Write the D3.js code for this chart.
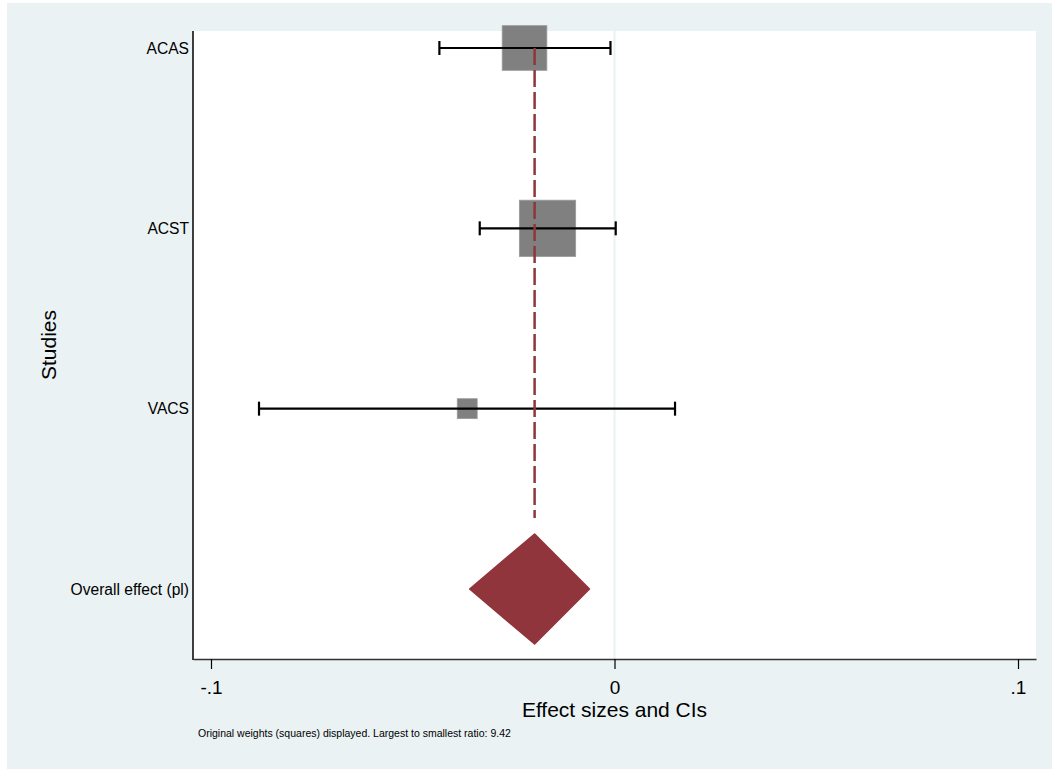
<!DOCTYPE html>
<html>
<head>
<meta charset="utf-8">
<script src="https://cdn.jsdelivr.net/npm/d3@7"></script>
<style>
  html, body { margin: 0; padding: 0; background: #ffffff; }
  svg { display: block; }
  text { font-family: "Liberation Sans", Arial, Helvetica, sans-serif; fill: #000; }
</style>
</head>
<body>
<svg id="chart" width="1052" height="769"></svg>
<script>
// Study-level estimates (effect size with 95% CI) and weights (%)
const studies   = ["ACAS", "ACST", "VACS"];
const effects   = [-0.0223, -0.0166, -0.0365];
const ciLower   = [-0.0434, -0.0334, -0.0881];
const ciUpper   = [-0.0010,  0.0003,  0.0150];
const weights   = [36.2, 57.5, 7.2];

// Pooled estimate
const overallLabel  = "Overall effect (pl)";
const overallEffect = -0.0198;
const overallLower  = -0.0359;
const overallUpper  = -0.0062;

const xTicks      = [-0.1, 0, 0.1];
const xTickLabels = ["-.1", "0", ".1"];
const ratioNote   = "Original weights (squares) displayed. Largest to smallest ratio: 9.42";

const svg = d3.select("#chart");
const W = 1052, H = 769;
const plot = { left: 193, right: 1036, top: 31, bottom: 659 };

// Outer graph region
svg.append("rect").attr("x", 7).attr("y", 3).attr("width", W - 7).attr("height", H - 3)
  .attr("fill", "#eaf2f3");

// Plot region
svg.append("rect").attr("x", plot.left).attr("y", plot.top)
  .attr("width", plot.right - plot.left).attr("height", plot.bottom - plot.top)
  .attr("fill", "#ffffff");

const x = d3.scaleLinear().domain([-0.10446, 0.10446]).range([plot.left, plot.right]);
const rows = studies.concat([overallLabel]);
const y = d3.scalePoint().domain(rows).range([48, 589]);

// Reference line at zero
svg.append("line")
  .attr("x1", x(0)).attr("x2", x(0))
  .attr("y1", plot.top).attr("y2", plot.bottom)
  .attr("stroke", "#eaf2f3").attr("stroke-width", 2);

// Weighted squares (area proportional to weight)
const boxSide = d3.scaleSqrt().domain([0, d3.max(weights)]).range([0, 56.3]);
const data = studies.map((s, i) => ({ s, e: effects[i], lo: ciLower[i], hi: ciUpper[i], w: weights[i] }));

svg.append("g").selectAll("rect").data(data).join("rect")
  .attr("x", d => x(d.e) - boxSide(d.w) / 2)
  .attr("y", d => y(d.s) - boxSide(d.w) / 2)
  .attr("width", d => boxSide(d.w))
  .attr("height", d => boxSide(d.w))
  .attr("fill", "#808080")
  .attr("stroke", "#9a9a9a").attr("stroke-width", 0.8);

// Confidence intervals with end caps
const ci = svg.append("g").attr("stroke", "#000").attr("stroke-width", 2.2);
ci.selectAll("line.ci").data(data).join("line").attr("class", "ci")
  .attr("x1", d => x(d.lo)).attr("x2", d => x(d.hi))
  .attr("y1", d => y(d.s)).attr("y2", d => y(d.s));
ci.selectAll("line.capl").data(data).join("line").attr("class", "capl")
  .attr("x1", d => x(d.lo)).attr("x2", d => x(d.lo))
  .attr("y1", d => y(d.s) - 7).attr("y2", d => y(d.s) + 7);
ci.selectAll("line.capr").data(data).join("line").attr("class", "capr")
  .attr("x1", d => x(d.hi)).attr("x2", d => x(d.hi))
  .attr("y1", d => y(d.s) - 7).attr("y2", d => y(d.s) + 7);

// Pooled effect: dashed line and diamond
const maroon = "#90353b";
svg.append("line")
  .attr("x1", x(overallEffect)).attr("x2", x(overallEffect))
  .attr("y1", y(studies[0])).attr("y2", 518)
  .attr("stroke", maroon).attr("stroke-width", 2.5)
  .attr("stroke-dasharray", "17,5");

const oy = y(overallLabel), halfH = 55;
svg.append("path")
  .attr("d", d3.line()([
    [x(overallLower), oy], [x(overallEffect), oy - halfH],
    [x(overallUpper), oy], [x(overallEffect), oy + halfH]
  ]) + "Z")
  .attr("fill", maroon).attr("stroke", maroon).attr("stroke-width", 1.5)
  .attr("stroke-linejoin", "round");

// Y axis: line plus category labels
svg.append("line").attr("x1", plot.left).attr("x2", plot.left)
  .attr("y1", plot.top).attr("y2", plot.bottom + 1)
  .attr("stroke", "#000").attr("stroke-width", 1.5);
svg.append("g").selectAll("text").data(rows).join("text")
  .attr("x", plot.left - 4).attr("y", d => y(d))
  .attr("text-anchor", "end").attr("dominant-baseline", "central")
  .attr("font-size", 15.6).text(d => d);

svg.append("text")
  .attr("transform", `translate(48,345) rotate(-90)`)
  .attr("text-anchor", "middle").attr("dominant-baseline", "central")
  .attr("font-size", 21).text("Studies");

// X axis
const xAxis = d3.axisBottom(x).tickValues(xTicks)
  .tickFormat((d, i) => xTickLabels[i]).tickSize(10).tickSizeOuter(0);
const gx = svg.append("g").attr("transform", `translate(0,${plot.bottom})`).call(xAxis);
gx.select(".domain").attr("stroke", "#333").attr("stroke-width", 1.5);
gx.selectAll(".tick line").attr("stroke", "#000").attr("stroke-width", 1.2);
gx.selectAll(".tick text").attr("font-size", 19).attr("font-family", "Liberation Sans, Arial, sans-serif")
  .attr("fill", "#000").attr("dy", null).attr("dominant-baseline", "central").attr("y", 28);

svg.append("text")
  .attr("x", (plot.left + plot.right) / 2).attr("y", 709)
  .attr("text-anchor", "middle").attr("dominant-baseline", "central")
  .attr("font-size", 21).text("Effect sizes and CIs");

svg.append("text")
  .attr("x", 198).attr("y", 733)
  .attr("dominant-baseline", "central")
  .attr("font-size", 10.5).text(ratioNote);
</script>
</body>
</html>
